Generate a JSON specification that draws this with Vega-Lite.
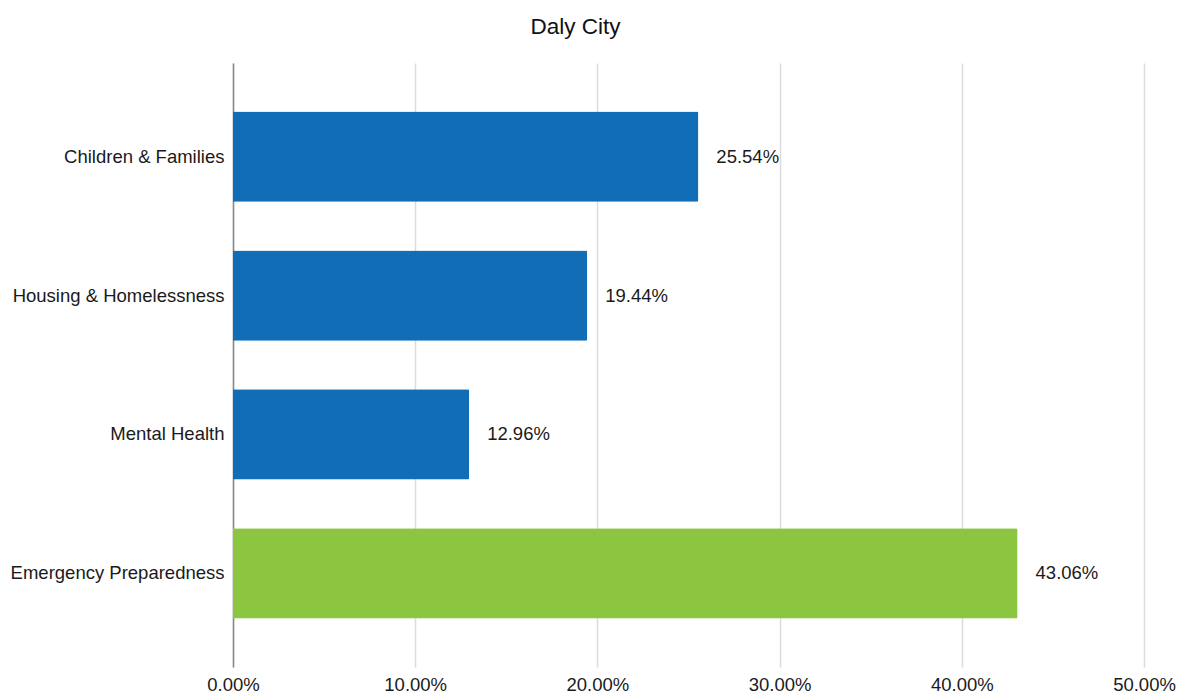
{
  "$schema": "https://vega.github.io/schema/vega-lite/v6.json",
  "autosize": "none",
  "padding": {"left": 233, "top": 63, "right": 40, "bottom": 27},
  "width": 911,
  "height": 604,
  "background": "white",
  "config": {"font": "Liberation Sans", "view": {"stroke": null}},
  "title": {"text": "Daly City", "fontSize": 22.5, "fontWeight": "normal", "color": "#111", "anchor": "middle", "dx": -113, "offset": 25, "font": "Liberation Sans"},
  "data": {"values": [
    {"category": "Children & Families", "value": 0.2554, "group": "a"},
    {"category": "Housing & Homelessness", "value": 0.1944, "group": "a"},
    {"category": "Mental Health", "value": 0.1296, "group": "a"},
    {"category": "Emergency Preparedness", "value": 0.4306, "group": "b"}
  ]},
  "encoding": {
    "y": {"field": "category", "type": "nominal", "sort": null,
      "scale": {"paddingInner": 0.35, "paddingOuter": 0.35},
      "axis": {"title": null, "ticks": false, "labelPadding": 9, "labelFontSize": 18.5, "labelColor": "#1a1a1a", "domainColor": "#888", "domainWidth": 1.5, "grid": false, "labelLimit": 400}},
    "x": {"field": "value", "type": "quantitative",
      "scale": {"domain": [0, 0.5]},
      "axis": {"title": null, "format": ".2%", "values": [0, 0.1, 0.2, 0.3, 0.4, 0.5], "labelOverlap": false, "labelFlush": false, "ticks": false, "domain": false, "labelPadding": 8, "labelFontSize": 18.5, "labelColor": "#1a1a1a", "gridColor": "#dcdcdc", "gridWidth": 1.5}}
  },
  "layer": [
    {"mark": {"type": "bar", "cornerRadiusEnd": 1.5},
      "encoding": {"color": {"field": "group", "type": "nominal", "scale": {"domain": ["a", "b"], "range": ["#116db6", "#8cc640"]}, "legend": null}}},
    {"mark": {"type": "text", "align": "left", "baseline": "middle", "dx": 18, "fontSize": 18.5, "color": "#1a1a1a"},
      "encoding": {"text": {"field": "value", "type": "quantitative", "format": ".2%"}}}
  ]
}
